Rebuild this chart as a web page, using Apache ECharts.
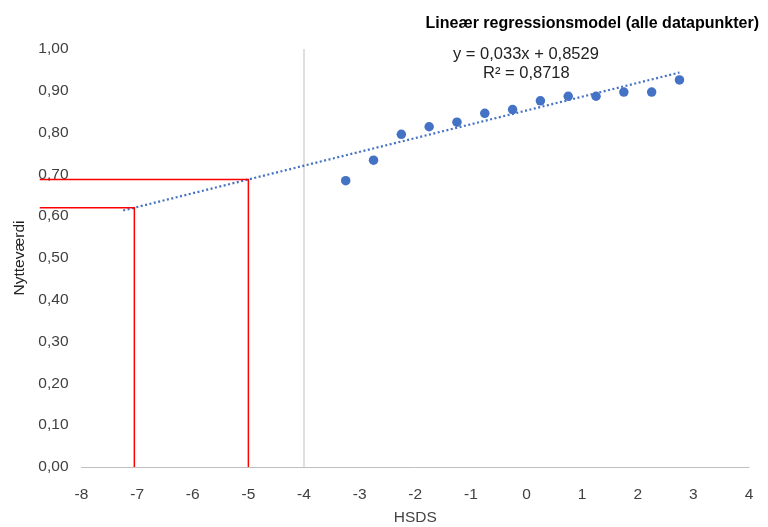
<!DOCTYPE html>
<html><head><meta charset="utf-8">
<script src="https://cdn.jsdelivr.net/npm/echarts@6/dist/echarts.min.js"></script>
<style>html,body{margin:0;padding:0;background:#fff}#c{width:768px;height:527px}</style>
</head><body><div id="c"></div>
<script>
const hsds = [-3.25,-2.75,-2.25,-1.75,-1.25,-0.75,-0.25,0.25,0.75,1.25,1.75,2.25,2.75];
const nytte = [0.685,0.734,0.796,0.814,0.825,0.846,0.855,0.876,0.887,0.887,0.897,0.897,0.926];
const slope = 0.033, intercept = 0.8529;
const trendX = [-7.25, 2.75];
const readXs = [-5, -7.05];
const readStartX = -8.75;
const title = 'Lineær regressionsmodel (alle datapunkter)';
const eqText = 'y = 0,033x + 0,8529';
const r2Text = 'R² = 0,8718';

const fmt = v => v.toFixed(2).replace('.', ',');
const f = x => slope * x + intercept;
const font = 'Liberation Sans, Arial, sans-serif';

const chart = echarts.init(document.getElementById('c'));
const baseGraphic = [
  {type:'text',left:453,top:46,style:{text:eqText,font:'16.5px '+font,fill:'#222'}},
  {type:'text',left:483,top:65,style:{text:r2Text,font:'16.5px '+font,fill:'#222'}}
];
chart.setOption({
  animation:false,
  textStyle:{fontFamily:font},
  title:{text:title,right:4,top:11,textStyle:{fontSize:16,fontWeight:'bold',color:'#000',fontFamily:font}},
  graphic:baseGraphic,
  grid:{left:81.5,right:19,top:49,bottom:60,outerBoundsMode:'none',containLabel:false},
  xAxis:{type:'value',min:-8,max:4,interval:1,name:'HSDS',nameLocation:'middle',nameGap:43,
    nameTextStyle:{fontSize:15.5,color:'#444'},
    axisLine:{lineStyle:{color:'#bfbfbf'}},axisTick:{show:false},splitLine:{show:false},
    axisLabel:{fontSize:15.5,color:'#404040',margin:20}},
  yAxis:{type:'value',min:0,max:1,interval:0.1,name:'Nytteværdi',nameLocation:'middle',nameGap:54,
    nameTextStyle:{fontSize:15.5,color:'#222'},
    axisLine:{show:false},axisTick:{show:false},splitLine:{show:false},
    axisLabel:{fontSize:15.5,color:'#404040',formatter:fmt,margin:13}},
  series:[
    {type:'line',data:[[-4,0],[-4,1]],symbol:'none',lineStyle:{color:'#bfbfbf',width:1},z:1,silent:true},
    {type:'line',data:trendX.map(x=>[x,f(x)]),symbol:'none',lineStyle:{color:'#4472C4',width:2.2,type:[2,2.5]},z:2},
    {type:'scatter',data:hsds.map((x,i)=>[x,nytte[i]]),symbolSize:9.5,itemStyle:{color:'#4472C4',opacity:1},z:4}
  ]
});
const redLines = readXs.map(rx => ({
  type:'polyline', z:50,
  shape:{points:[[readStartX,f(rx)],[rx,f(rx)],[rx,0]].map(p=>chart.convertToPixel({gridIndex:0},p))},
  style:{stroke:'#ff0000',lineWidth:1.5,fill:null}
}));
chart.setOption({graphic:baseGraphic.concat(redLines)});
</script></body></html>
